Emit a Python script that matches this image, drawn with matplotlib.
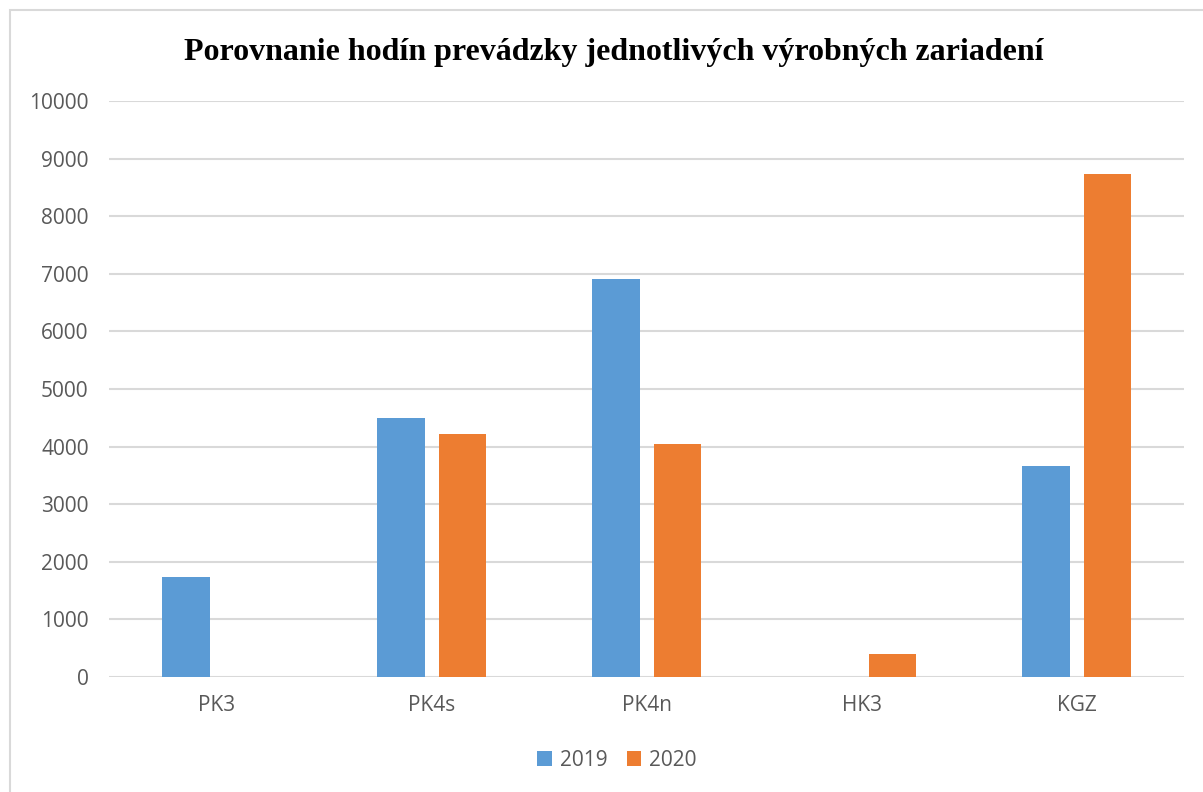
import numpy as np
import matplotlib.pyplot as plt
from matplotlib.patches import Rectangle

categories = ['PK3', 'PK4s', 'PK4n', 'HK3', 'KGZ']
hours_2019 = [1740, 4490, 6910, 0, 3670]
hours_2020 = [0, 4210, 4050, 400, 8740]
series_labels = ['2019', '2020']
yticks = np.arange(0, 10001, 1000)

BLUE = '#5B9BD5'
ORANGE = '#ED7D31'
GRAY = '#595959'
GRID = '#d9d9d9'

fig = plt.figure(figsize=(12.03, 7.92), dpi=100)
ax = fig.add_axes([0.091, 0.1452, 0.8936, 0.7273])

# light border around the chart area (cut at right/bottom like the source)
fig.patches.append(Rectangle((10 / 1203, -0.01), 1.02, 1 - 10 / 792 + 0.01,
                             transform=fig.transFigure, fill=False,
                             edgecolor=GRID, lw=1.5))

x = np.arange(len(categories))
w = 0.223
off = 0.142
ax.bar(x - off, hours_2019, w, color=BLUE, label=series_labels[0], zorder=3)
ax.bar(x + off, hours_2020, w, color=ORANGE, label=series_labels[1], zorder=3)

ax.set_xlim(-0.5, len(categories) - 0.5)
ax.set_ylim(0, 10000)
ax.set_yticks(yticks)
ax.set_xticks(x)
ax.set_xticklabels(categories)
ax.yaxis.grid(True, color=GRID, lw=1.5, zorder=0)
ax.set_axisbelow(True)
for s in ax.spines.values():
    s.set_visible(False)
ax.tick_params(axis='both', length=0, colors=GRAY, labelsize=15)
ax.tick_params(axis='y', pad=15)
ax.tick_params(axis='x', pad=13)
for lab in ax.get_xticklabels() + ax.get_yticklabels():
    lab.set_family('Open Sans')

fig.text(0.51, 0.934, 'Porovnanie hodín prevádzky jednotlivých výrobných zariadení',
         ha='center', va='center', fontsize=23, fontweight='bold',
         family='Liberation Serif')

ax.legend(loc='center', bbox_to_anchor=(0.513, 0.04), bbox_transform=fig.transFigure,
          ncol=2, frameon=False, handlelength=0.7, handleheight=0.7,
          columnspacing=0.9, handletextpad=0.4,
          prop={'family': 'Open Sans', 'size': 15}, labelcolor=GRAY)

fig.savefig('out.png', dpi=100)
